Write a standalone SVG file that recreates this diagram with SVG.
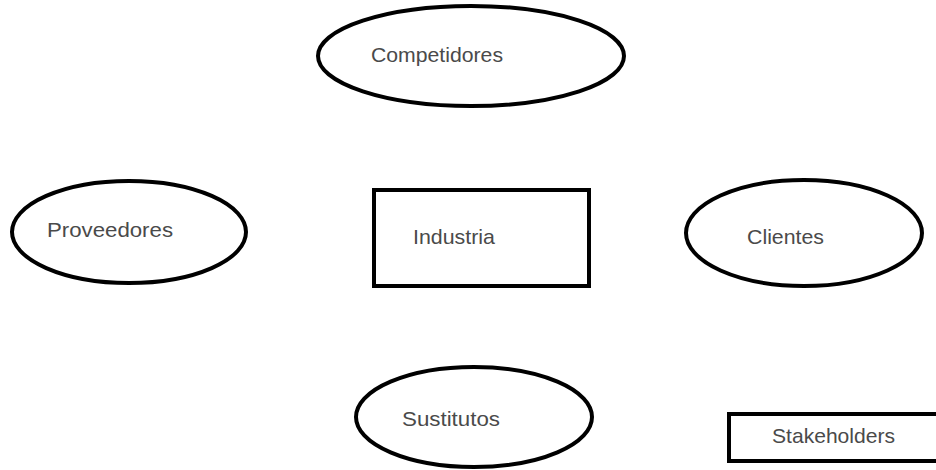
<svg xmlns="http://www.w3.org/2000/svg" width="936" height="470" viewBox="0 0 936 470">
  <style>
    .shape { fill: #ffffff; stroke: #000000; stroke-width: 4; }
    .label { font-family: "Liberation Sans", Arial, sans-serif; font-size: 21px; fill: #4a4a4a; }
  </style>
  <rect width="936" height="470" fill="#ffffff"/>
  <g id="connectors"></g>
  <g id="competidores">
    <ellipse class="shape" cx="471" cy="56" rx="153" ry="50"/>
    <text class="label" x="371" y="62" textLength="132" lengthAdjust="spacingAndGlyphs">Competidores</text>
  </g>
  <g id="proveedores">
    <ellipse class="shape" cx="129" cy="232" rx="117" ry="51"/>
    <text class="label" x="47" y="237" textLength="126" lengthAdjust="spacingAndGlyphs">Proveedores</text>
  </g>
  <g id="industria">
    <rect class="shape" x="374" y="190" width="215" height="96"/>
    <text class="label" x="413" y="244" textLength="82" lengthAdjust="spacingAndGlyphs">Industria</text>
  </g>
  <g id="clientes">
    <ellipse class="shape" cx="804" cy="233" rx="118" ry="53"/>
    <text class="label" x="747" y="244" textLength="77" lengthAdjust="spacingAndGlyphs">Clientes</text>
  </g>
  <g id="sustitutos">
    <ellipse class="shape" cx="474" cy="417" rx="118" ry="50"/>
    <text class="label" x="402" y="426" textLength="98" lengthAdjust="spacingAndGlyphs">Sustitutos</text>
  </g>
  <g id="stakeholders">
    <rect class="shape" x="729" y="414" width="220" height="47"/>
    <text class="label" x="772" y="443" textLength="123" lengthAdjust="spacingAndGlyphs">Stakeholders</text>
  </g>
</svg>
